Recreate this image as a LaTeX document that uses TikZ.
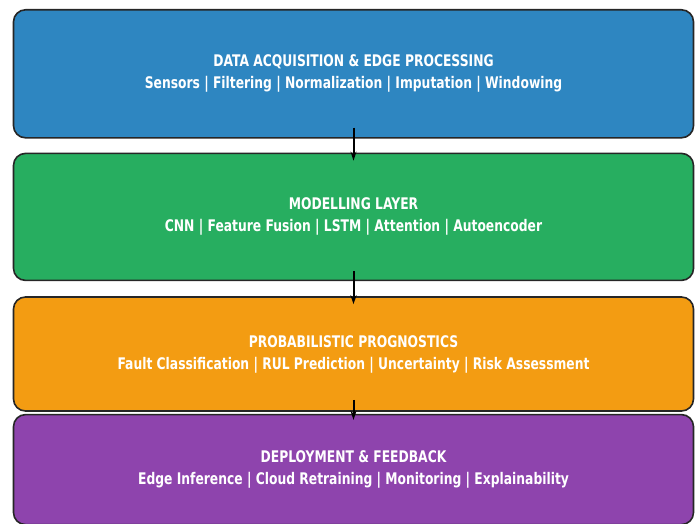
\documentclass[tikz,border=0pt]{standalone}
\usepackage{fontspec}
\setmainfont{DejaVu Sans}[FakeStretch=0.77]
\usepackage{xcolor}
\usetikzlibrary{positioning,arrows.meta}

\definecolor{acqblue}{HTML}{2E86C1}
\definecolor{modgreen}{HTML}{27AE60}
\definecolor{progorange}{HTML}{F39C12}
\definecolor{deppurple}{HTML}{8E44AD}

\begin{document}
\begin{tikzpicture}[x=1pt, y=1pt, node distance=14pt,
    layer/.style={rectangle, rounded corners=12pt, draw=black!85, line width=1.6pt,
        minimum width=680pt, text=white, align=center,
        font=\fontsize{16}{22}\selectfont\bfseries},
    arrow/.style={-{Stealth[length=9pt,width=6pt]}, line width=2pt}]
    \useasboundingbox (0,0) rectangle (698,-524);

    \node[layer, fill=acqblue, minimum height=128pt, anchor=north] (acq) at (353.5,-9)
        {DATA ACQUISITION \& EDGE PROCESSING\\Sensors | Filtering | Normalization | Imputation | Windowing};
    \node[layer, fill=modgreen, minimum height=127pt, below=14pt of acq] (model)
        {MODELLING LAYER\\CNN | Feature Fusion | LSTM | Attention | Autoencoder};
    \node[layer, fill=progorange, minimum height=114pt, below=15pt of model] (prog)
        {PROBABILISTIC PROGNOSTICS\\Fault Classification | RUL Prediction | Uncertainty | Risk Assessment};
    \node[layer, fill=deppurple, minimum height=110pt, below=2pt of prog] (deploy)
        {DEPLOYMENT \& FEEDBACK\\Edge Inference | Cloud Retraining | Monitoring | Explainability};

    \draw[arrow] ([yshift=11pt]acq.south) -- ([yshift=-8pt]model.north);
    \draw[arrow] ([yshift=10pt]model.south) -- ([yshift=-8pt]prog.north);
    \draw[arrow] ([yshift=12pt]prog.south) -- ([yshift=-6pt]deploy.north);
\end{tikzpicture}
\end{document}
